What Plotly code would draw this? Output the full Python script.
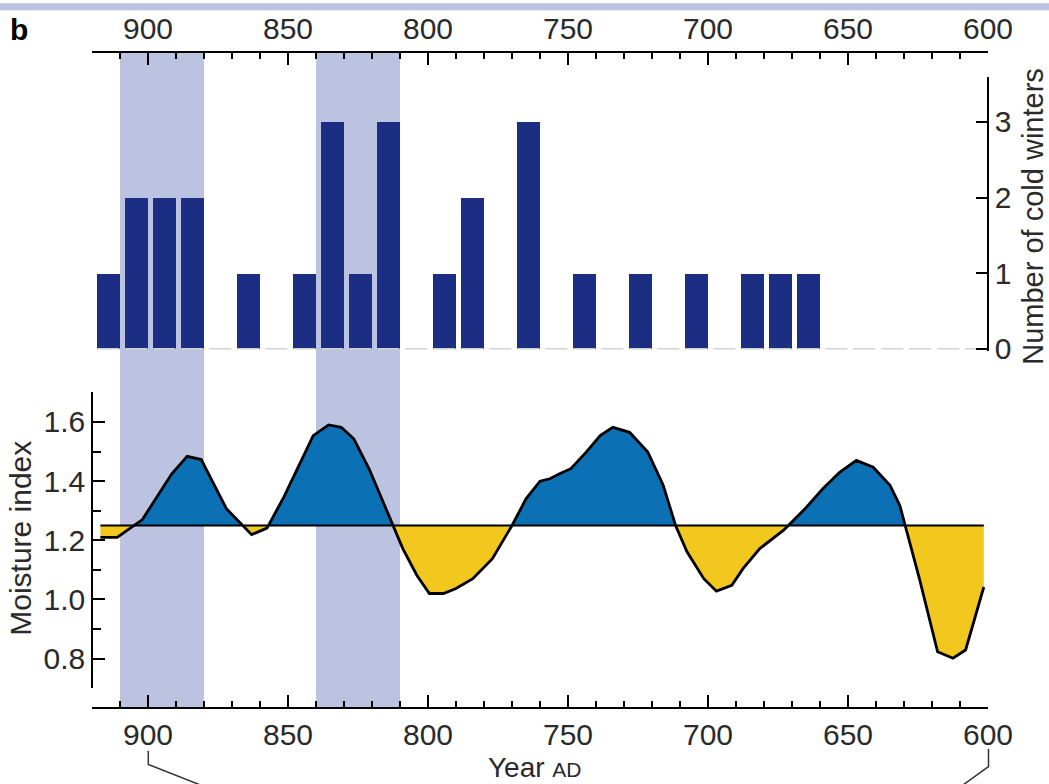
import plotly.graph_objects as go

# ---------------- data ----------------
# Cold-winter counts per decade (bar centres, years AD)
decade_years = [914, 904, 894, 884, 874, 864, 854, 844, 834, 824, 814, 804, 794, 784, 774, 764,
                754, 744, 734, 724, 714, 704, 694, 684, 674, 664, 654, 644, 634, 624, 614, 604]
cold_winters = [1, 2, 2, 2, 0, 1, 0, 1, 3, 1, 3, 0, 1, 2, 0, 3,
                0, 1, 0, 1, 0, 1, 0, 1, 1, 1, 0, 0, 0, 0, 0, 0]

# Moisture index curve
moist_years = [917, 911, 902, 896, 891.5, 886, 881, 872, 863, 857.5, 851.5, 841, 835.5, 831, 826.5,
               821, 816, 809, 804, 799.5, 794.5, 790, 784, 777, 770, 765, 760, 756.5, 753, 749,
               743.5, 738.5, 734, 728, 721.5, 716, 711.5, 707.5, 701.5, 697, 691.5, 687.5, 681.5,
               673, 665, 659, 653, 647, 641, 635, 631.5, 624.5, 618, 612.5, 608, 601.5]
moist_vals = [1.21, 1.21, 1.27, 1.36, 1.425, 1.484, 1.473, 1.307, 1.219, 1.241, 1.346, 1.554, 1.590,
              1.582, 1.543, 1.441, 1.329, 1.172, 1.082, 1.020, 1.020, 1.037, 1.070, 1.138, 1.25,
              1.340, 1.40, 1.408, 1.425, 1.442, 1.498, 1.554, 1.582, 1.565, 1.498, 1.386, 1.248,
              1.161, 1.070, 1.028, 1.048, 1.104, 1.172, 1.234, 1.31, 1.374, 1.430, 1.47, 1.447,
              1.386, 1.318, 1.070, 0.823, 0.801, 0.829, 1.042]
moist_mean = 1.25

shaded_periods = [(910, 880), (840, 810)]

x_ticks_major = 50
x_ticks_minor = 10

# ---------------- styling ----------------
NAVY = "#1b2e84"
BLUE = "#0b71b4"
YELLOW = "#f2c81f"
LAVENDER = "#bcc3e1"
TXT = "#2a2a2a"
FONT = "Liberation Sans, Arial, Helvetica, sans-serif"
FS = 30

L, R, T, B = 92, 988, 47, 708
W, H = R - L, B - T


def px(x):
    return (x - L) / W


def py(y):
    return (B - y) / H


# split curve into parts above/below the mean, inserting crossings
xs, ys = [moist_years[0]], [moist_vals[0]]
for i in range(1, len(moist_years)):
    x0, y0 = moist_years[i - 1], moist_vals[i - 1]
    x1, y1 = moist_years[i], moist_vals[i]
    if (y0 - moist_mean) * (y1 - moist_mean) < 0:
        t = (moist_mean - y0) / (y1 - y0)
        xs.append(x0 + t * (x1 - x0))
        ys.append(moist_mean)
    xs.append(x1)
    ys.append(y1)
pos = [max(v, moist_mean) for v in ys]
neg = [min(v, moist_mean) for v in ys]
base = [moist_mean] * len(xs)

fig = go.Figure()

# dashed zero line under the bars
fig.add_trace(go.Scatter(x=[decade_years[0] + 4.1, 600], y=[0, 0], xaxis="x", yaxis="y2",
                         mode="lines", line=dict(color="#d2d2d2", width=1.5, dash="22px,6px"),
                         hoverinfo="skip", showlegend=False))
fig.add_trace(go.Bar(x=decade_years, y=cold_winters, width=8.1, xaxis="x", yaxis="y2",
                     marker=dict(color=NAVY, line=dict(width=0)), showlegend=False))

# fills
fig.add_trace(go.Scatter(x=xs, y=base, mode="lines", line=dict(width=0), hoverinfo="skip",
                         showlegend=False))
fig.add_trace(go.Scatter(x=xs, y=pos, mode="lines", line=dict(width=0), fill="tonexty",
                         fillcolor=BLUE, hoverinfo="skip", showlegend=False))
fig.add_trace(go.Scatter(x=xs, y=base, mode="lines", line=dict(width=0), hoverinfo="skip",
                         showlegend=False))
fig.add_trace(go.Scatter(x=xs, y=neg, mode="lines", line=dict(width=0), fill="tonexty",
                         fillcolor=YELLOW, hoverinfo="skip", showlegend=False))
# mean line and curve
fig.add_trace(go.Scatter(x=[xs[0], xs[-1]], y=[moist_mean, moist_mean], mode="lines",
                         line=dict(color="black", width=2), showlegend=False))
fig.add_trace(go.Scatter(x=moist_years, y=moist_vals, mode="lines",
                         line=dict(color="black", width=2.8), showlegend=False))
# dummy trace to activate the top axis
fig.add_trace(go.Scatter(x=[920], y=[moist_mean], xaxis="x2", yaxis="y", mode="markers",
                         marker=dict(opacity=0), hoverinfo="skip", showlegend=False))

shapes = []
for a, b in shaded_periods:
    shapes.append(dict(type="rect", xref="x", yref="paper", x0=a, x1=b, y0=0, y1=1,
                       fillcolor=LAVENDER, line=dict(width=0), layer="below"))
# top strip
shapes.append(dict(type="rect", xref="paper", yref="paper", x0=px(0), x1=px(1049),
                   y0=py(5), y1=py(-2), fillcolor=LAVENDER, line=dict(width=0)))
# connector brackets under the axis
shapes.append(dict(type="path", xref="paper", yref="paper", line=dict(color="#333", width=1.5),
                   path=f"M {px(148.3)} {py(751)} L {px(148.3)} {py(765)} L {px(237)} {py(800)}"))
shapes.append(dict(type="path", xref="paper", yref="paper", line=dict(color="#333", width=1.5),
                   path=f"M {px(988.5)} {py(749)} L {px(988.5)} {py(767)} L {px(950)} {py(795)}"))

xcommon = dict(range=[920, 600], showline=True, linecolor="black", linewidth=1.5,
               ticks="inside", ticklen=12, tickwidth=1.5, tickcolor="black",
               dtick=x_ticks_major, tick0=600, showgrid=False, zeroline=False,
               tickfont=dict(size=FS, color=TXT, family=FONT),
               minor=dict(dtick=x_ticks_minor, tick0=600, ticks="inside", ticklen=6,
                          tickwidth=1.5, tickcolor="black", showgrid=False))

fig.update_layout(
    width=1049, height=784,
    margin=dict(l=L, r=1049 - R, t=T, b=784 - B, pad=0),
    paper_bgcolor="white", plot_bgcolor="white",
    showlegend=False, bargap=0,
    font=dict(family=FONT, color=TXT, size=FS),
    xaxis=dict(anchor="free", position=0, side="bottom", **xcommon),
    xaxis2=dict(anchor="free", position=1, side="top", overlaying="x", **xcommon),
    yaxis=dict(domain=[py(688), py(390)], range=[0.7, 1.7], anchor="free", position=0,
               side="left", showline=True, linecolor="black", linewidth=1.5,
               ticks="inside", ticklen=12, tickwidth=1.5, tickcolor="black",
               tick0=0.8, dtick=0.2, tickformat=".1f", showgrid=False, zeroline=False,
               tickfont=dict(size=FS, color=TXT, family=FONT),
               minor=dict(dtick=0.1, tick0=0.7, ticks="inside", ticklen=8, tickwidth=1.5,
                          tickcolor="black", showgrid=False)),
    yaxis2=dict(domain=[py(348.3), py(71.7)], range=[-0.03, 3.6], anchor="free", position=1,
                side="right", showline=True, linecolor="black", linewidth=1.5,
                ticks="inside", ticklen=11, tickwidth=1.5, tickcolor="black",
                tickvals=[0, 1, 2, 3], showgrid=False, zeroline=False,
                tickfont=dict(size=FS, color=TXT, family=FONT)),
    shapes=shapes,
    annotations=[
        dict(text="<b>b</b>", xref="paper", yref="paper", x=px(8), y=py(24),
             xanchor="left", yanchor="middle", showarrow=False,
             font=dict(size=30, color="black", family=FONT)),
        dict(text="Moisture index", xref="paper", yref="paper", x=px(2), y=py(537),
             xanchor="left", yanchor="middle", textangle=-90, showarrow=False,
             font=dict(size=30, color=TXT, family=FONT)),
        dict(text="Number of cold winters", xref="paper", yref="paper", x=px(1015), y=py(213),
             xanchor="left", yanchor="middle", textangle=-90, showarrow=False,
             font=dict(size=29, color=TXT, family=FONT)),
        dict(text="Year <span style='font-size:21px'>AD</span>", xref="paper", yref="paper",
             x=px(535), y=py(768), xanchor="center", yanchor="middle", showarrow=False,
             font=dict(size=28, color=TXT, family=FONT)),
    ],
)

fig.write_html("out.html")
